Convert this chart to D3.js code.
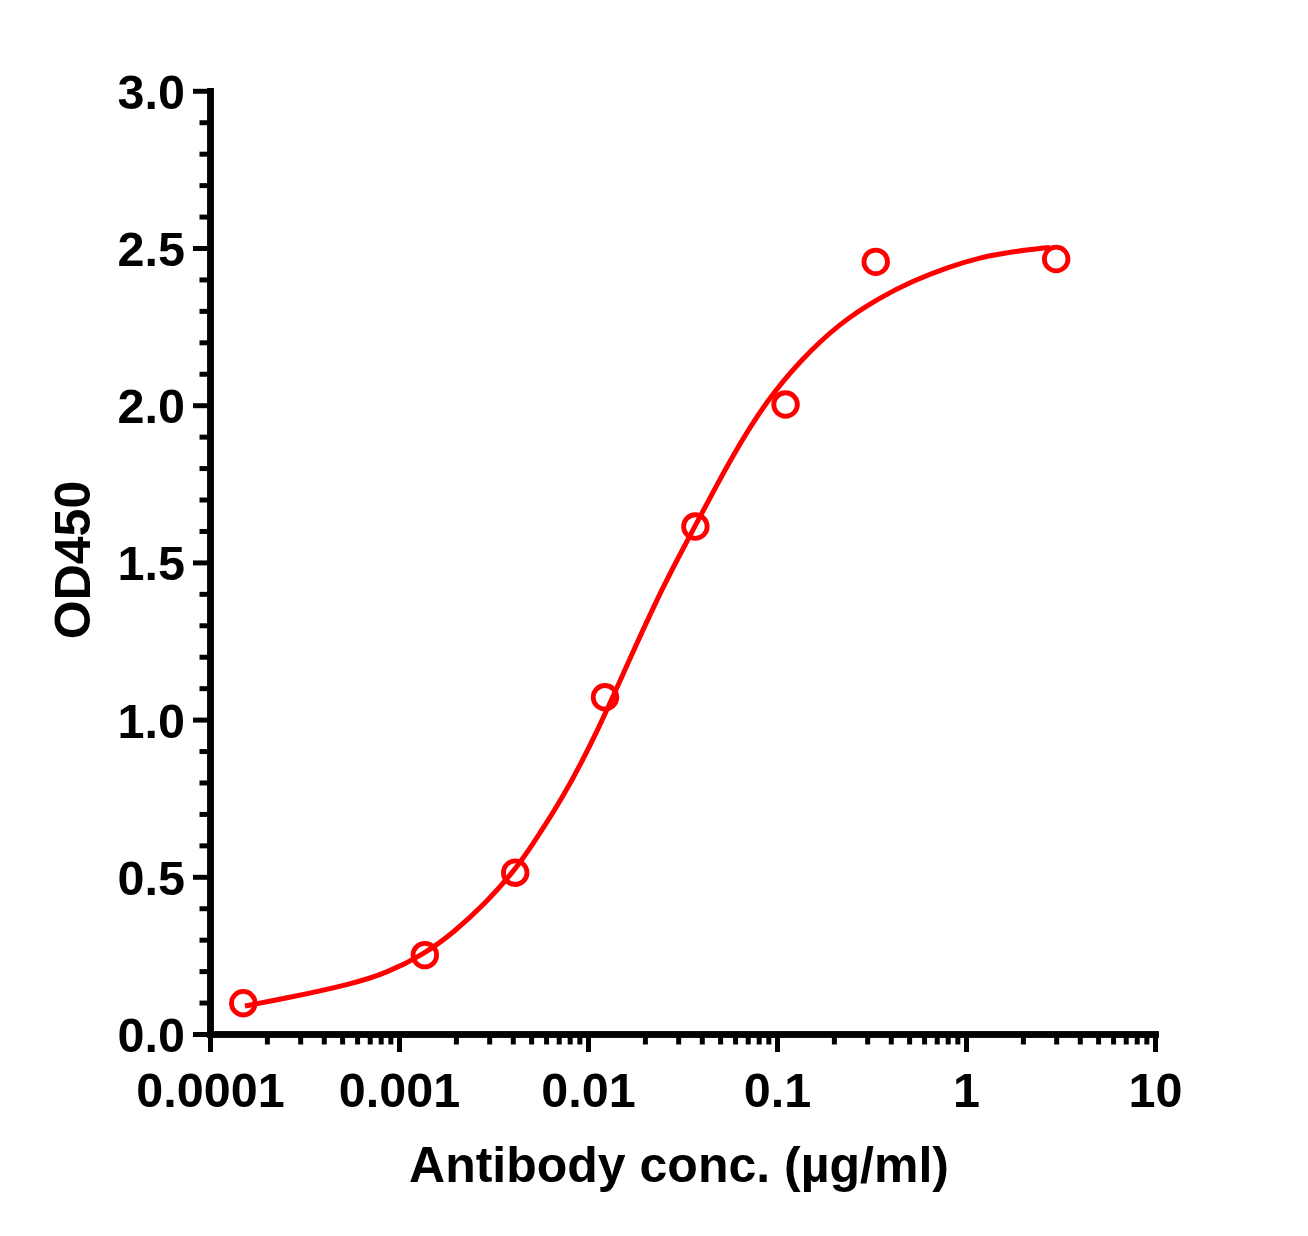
<!DOCTYPE html>
<html>
<head>
<meta charset="utf-8">
<script src="https://cdn.jsdelivr.net/npm/d3@7"></script>
<style>
body { margin: 0; background: #fff; }
text { font-family: "Liberation Sans", Arial, sans-serif; font-weight: bold; }
</style>
</head>
<body>
<script>
var width = 1308, height = 1236;

// measured points (conc in ug/ml, OD450)
var pointConc = [0.00015, 0.00137, 0.00412, 0.0123, 0.037, 0.111, 0.333, 3];
var pointOD   = [0.098, 0.251, 0.513, 1.071, 1.614, 2.002, 2.456, 2.465];

// fitted curve (log10 conc, OD450)
var curveLogConc = [-3.815, -3.594, -3.243, -3.065, -2.868, -2.714, -2.536, -2.388, -2.307,
                    -2.131, -1.954, -1.778, -1.602, -1.478, -1.390, -1.231, -1.054, -0.878,
                    -0.667, -0.455, -0.279, -0.102, 0.074, 0.249, 0.444];
var curveOD = [0.089, 0.114, 0.160, 0.194, 0.254, 0.321, 0.419, 0.521, 0.590,
               0.752, 0.956, 1.195, 1.425, 1.565, 1.665, 1.845, 2.015, 2.142,
               2.262, 2.343, 2.396, 2.438, 2.470, 2.489, 2.502];

var xTicks = [0.0001, 0.001, 0.01, 0.1, 1, 10];
var xTickLabels = ["0.0001", "0.001", "0.01", "0.1", "1", "10"];
var yTicks = [0, 0.5, 1.0, 1.5, 2.0, 2.5, 3.0];
var yMinor = d3.range(0, 31).map(function(i){ return i/10; }).filter(function(v){ return Math.round(v*10) % 5 != 0; });
var xMinor = [];
xTicks.slice(0, -1).forEach(function(t){
  for (var k = 2; k <= 9; k++) xMinor.push(t*k);
});

var red = "#ff0000";

var svg = d3.select("body")
            .append("svg")
            .attr("width", width)
            .attr("height", height);

var x = d3.scaleLog().domain([0.0001, 10]).range([210, 1155]);
var y = d3.scaleLinear().domain([0, 3]).range([1034, 90.8]);

// y axis
var yAxis = svg.append("g").attr("transform", "translate(210,0)");
yAxis.call(d3.axisLeft(y).tickValues(yMinor).tickSize(10.5).tickSizeOuter(0).tickFormat(""));
yAxis.append("g").call(d3.axisLeft(y).tickValues(yTicks).tickSize(17).tickSizeOuter(0)
      .tickPadding(8).tickFormat(d3.format(".1f")));

// x axis
var xAxis = svg.append("g").attr("transform", "translate(0,1034)");
xAxis.call(d3.axisBottom(x).tickValues(xMinor).tickSize(10.5).tickSizeOuter(0).tickFormat(""));
xAxis.append("g").call(d3.axisBottom(x).tickValues(xTicks).tickSize(18).tickSizeOuter(0)
      .tickPadding(21).tickFormat(function(d, i){ return xTickLabels[i]; }));

svg.selectAll(".domain").attr("stroke", "#000").attr("stroke-width", 6.5).attr("stroke-linecap", "square");
svg.selectAll(".tick line").attr("stroke", "#000").attr("stroke-width", 5);
svg.selectAll(".tick text").attr("fill", "#000").style("font-size", "48.5px");
yAxis.selectAll(".tick text").attr("dy", "0.36em");

// curve
var curveData = curveLogConc.map(function(l, i){ return [Math.pow(10, l), curveOD[i]]; });
var line = d3.line()
             .x(function(d){ return x(d[0]); })
             .y(function(d){ return y(d[1]); })
             .curve(d3.curveBasis);
svg.append("path")
   .datum(curveData)
   .attr("d", line)
   .attr("fill", "none")
   .attr("stroke", red)
   .attr("stroke-width", 5);

// points
var pts = pointConc.map(function(c, i){ return [c, pointOD[i]]; });
svg.selectAll("circle.pt")
   .data(pts)
   .enter().append("circle")
   .attr("class", "pt")
   .attr("cx", function(d){ return x(d[0]); })
   .attr("cy", function(d){ return y(d[1]); })
   .attr("r", 11.8)
   .attr("fill", "none")
   .attr("stroke", red)
   .attr("stroke-width", 4.8);

// axis titles
svg.append("text")
   .attr("x", 679)
   .attr("y", 1182)
   .attr("text-anchor", "middle")
   .style("font-size", "50px")
   .text("Antibody conc. (µg/ml)");

svg.append("text")
   .attr("transform", "translate(90,560) rotate(-90)")
   .attr("text-anchor", "middle")
   .style("font-size", "50px")
   .text("OD450");
</script>
</body>
</html>
